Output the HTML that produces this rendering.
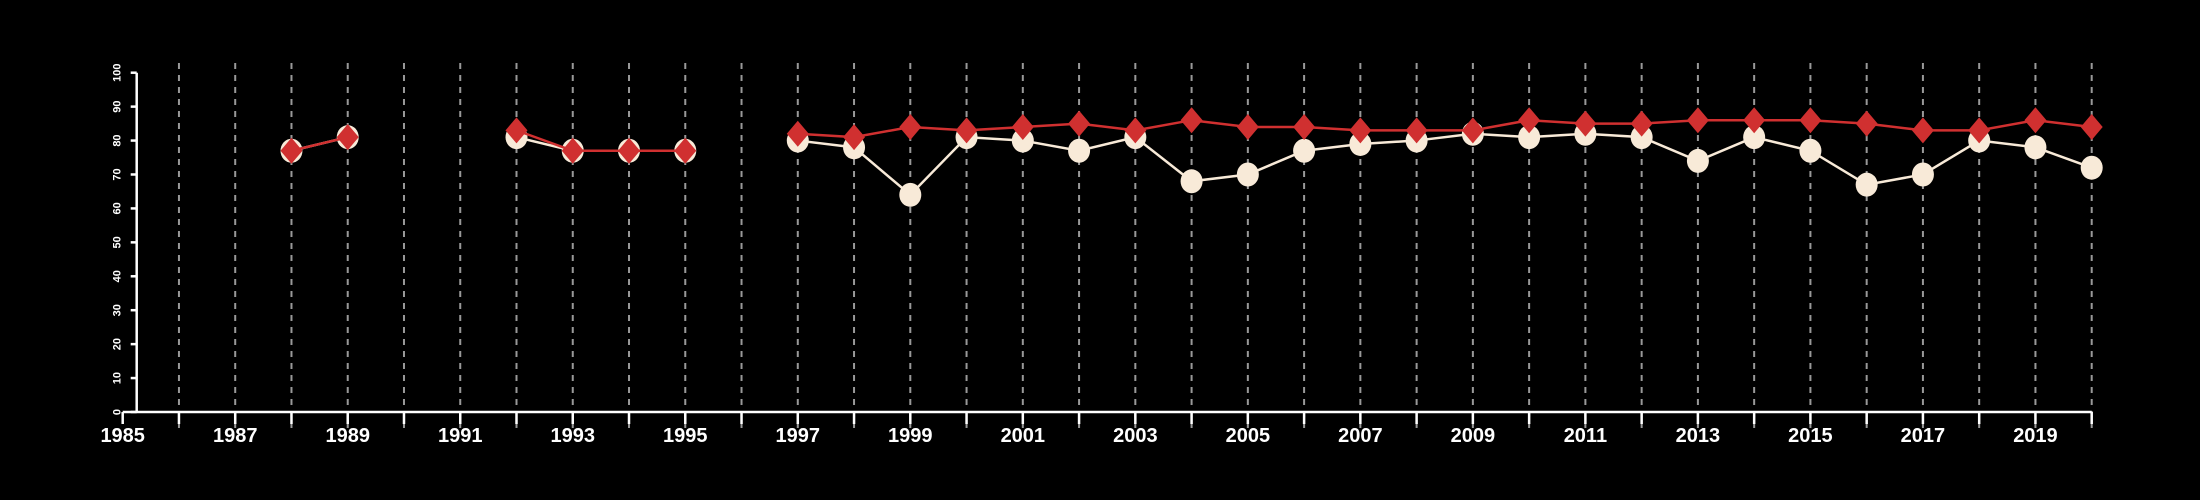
<!DOCTYPE html>
<html><head><meta charset="utf-8"><style>
html,body{margin:0;padding:0;background:#000;}
svg{display:block;font-family:"Liberation Sans",sans-serif;}
</style></head><body>
<svg id="chart" width="2200" height="500" viewBox="0 0 2200 500">
<rect width="2200" height="500" fill="#000"/>
<g id="grid"></g>
<g id="axes"></g>
<g id="series"></g>
</svg>
<script>
const years = [1988,1989,1990,1991,1992,1993,1994,1995,1996,1997,1998,1999,2000,2001,2002,2003,2004,2005,2006,2007,2008,2009,2010,2011,2012,2013,2014,2015,2016,2017,2018,2019,2020];
const whiteValues = [77,81,null,null,81,77,77,77,null,80,78,64,81,80,77,81,68,70,77,79,80,82,81,82,81,74,81,77,67,70,80,78,72];
const redValues = [77,81,null,null,83,77,77,77,null,82,81,84,83,84,85,83,86,84,84,83,83,83,86,85,85,86,86,86,85,83,83,86,84];
const yTicks = [0,10,20,30,40,50,60,70,80,90,100];
const xLabels = [1985,1987,1989,1991,1993,1995,1997,1999,2001,2003,2005,2007,2009,2011,2013,2015,2017,2019];

const NS="http://www.w3.org/2000/svg";
const X0=122.7,X1=2091.7,Y0=412,Y1=72.7;
const xs=y=>X0+(y-1985)*(X1-X0)/35;
const ys=v=>Y0+(v-0)*(Y1-Y0)/100;
function mk(t,a,p){const e=document.createElementNS(NS,t);for(const k in a)e.setAttribute(k,a[k]);p.appendChild(e);return e;}
const grid=document.getElementById('grid'),axes=document.getElementById('axes'),ser=document.getElementById('series');
for(let yr=1986;yr<=2020;yr++){
  const l=mk('line',{x1:xs(yr),x2:xs(yr),y1:63,y2:428,stroke:'#999','stroke-width':2,'stroke-dasharray':'6,6'},grid);
  
  
}
const xa=mk('line',{x1:X0,x2:X1,y1:Y0,y2:Y0,stroke:'#fff','stroke-width':2.5},axes);


for(let yr=1985;yr<=2020;yr++){
  const t=mk('line',{x1:xs(yr),x2:xs(yr),y1:Y0,y2:Y0+12,stroke:'#fff','stroke-width':2.5},axes);
  
  
}
xLabels.forEach(yr=>{
  const t=mk('text',{x:xs(yr),y:442,fill:'#fff','font-size':20,'font-weight':'bold','text-anchor':'middle'},axes);
  t.textContent=yr;
  
  
});
const ya=mk('line',{x1:X0+14,x2:X0+14,y1:Y0,y2:Y1,stroke:'#fff','stroke-width':2.5},axes);


yTicks.forEach(v=>{
  const t=mk('line',{x1:X0+8,x2:X0+14,y1:ys(v),y2:ys(v),stroke:'#fff','stroke-width':2.5},axes);
  
  
  const tx=mk('text',{x:0,y:0,fill:'#fff','font-size':11,'font-weight':'bold','text-anchor':'middle',transform:`translate(${X0-2},${ys(v)}) rotate(-90)`},axes);
  tx.textContent=v;
  
  
});
function segs(vals){const out=[];let cur=[];vals.forEach((v,i)=>{if(v==null){if(cur.length)out.push(cur);cur=[];}else cur.push([xs(years[i]),ys(v)]);});if(cur.length)out.push(cur);return out;}
segs(whiteValues).forEach(s=>{
  const p=mk('polyline',{points:s.map(q=>q.join(',')).join(' '),fill:'none',stroke:'#f8ead8','stroke-width':2.5},ser);
  
  
});
whiteValues.forEach((v,i)=>{if(v==null)return;
  const c=mk('ellipse',{cx:xs(years[i]),cy:ys(v),rx:11,ry:12,fill:'#f8ead8'},ser);
  
  
});
segs(redValues).forEach(s=>{
  const p=mk('polyline',{points:s.map(q=>q.join(',')).join(' '),fill:'none',stroke:'#d03030','stroke-width':2.5},ser);
  
  
});
redValues.forEach((v,i)=>{if(v==null)return;
  const x=xs(years[i]),y=ys(v);
  const d=mk('polygon',{points:`${x},${y-13} ${x+11},${y} ${x},${y+13} ${x-11},${y}`,fill:'#d03030'},ser);
  
  
});
</script>
</body></html>
